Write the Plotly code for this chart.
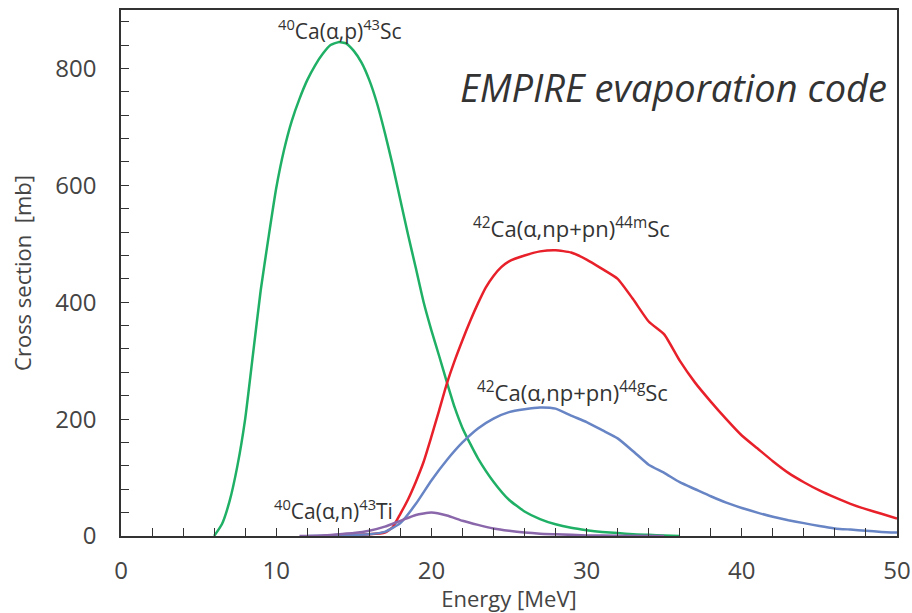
import plotly.graph_objects as go

# Energy grids (MeV) and cross sections (mb)
e_green = [6, 6.5, 7, 7.5, 8, 8.5, 9, 9.5, 10, 10.5, 11, 11.5, 12, 12.5, 13, 13.5, 14, 14.5,
           15, 15.5, 16, 16.5, 17, 17.5, 18, 18.5, 19, 19.5, 20, 20.5, 21, 21.5, 22, 22.5, 23, 24,
           25, 26, 27, 28, 29, 30, 31, 32, 33, 34, 35, 36]
s_green = [0, 20, 60, 120, 200, 310, 420, 510, 595, 660, 710, 748, 780, 805, 825, 840, 845, 843,
           830, 810, 780, 740, 690, 635, 575, 515, 458, 400, 352, 308, 263, 220, 185, 158, 133, 93,
           62, 42, 29, 20, 14, 10, 7, 5, 3, 2, 1, 0]

e_red = [13, 14, 15, 16, 17, 17.5, 18, 18.5, 19, 19.5, 20, 20.5, 21, 21.5, 22, 22.5, 23, 23.5, 24,
         24.5, 25, 26, 27, 28, 29, 30, 31, 32, 33, 34,
         35, 36, 37, 38, 39, 40, 41, 42, 43, 44, 45, 46, 47, 48, 49, 50]
s_red = [0, 1, 2, 3, 6, 15, 38, 63, 93, 127, 170, 215, 261, 300, 335, 368, 398, 425, 445,
         460, 470, 480, 487, 489, 485, 473, 457, 440, 405, 367, 345, 300, 262, 230, 200, 172,
         150, 128, 108, 92, 78, 66, 55, 46, 38, 30]

e_blue = [12, 14, 16, 17, 18, 19, 20, 21, 22, 23, 24, 25, 26, 27, 28, 29, 30, 31, 32, 33, 34, 35, 36,
          37, 38, 39, 40, 41, 42, 43, 44, 45, 46, 47, 48, 49, 50]
s_blue = [0, 1, 3, 7, 22, 55, 95, 130, 160, 184, 201, 212, 217, 220, 218, 206, 195, 181, 167, 145,
          122, 108, 92, 80, 68, 57, 48, 40, 33, 27, 22, 17, 13, 11, 9, 7, 6]

e_purple = [11.5, 13, 14, 15, 16, 17, 18, 19, 20, 21, 22, 23, 24, 25, 26, 27, 28, 30, 32, 35]
s_purple = [0, 1, 3, 5, 9, 16, 26, 36, 40, 35, 26, 19, 13, 9, 6, 4, 3, 1, 0.5, 0]

x_ticks = [0, 10, 20, 30, 40, 50]
y_ticks = [0, 200, 400, 600, 800]

fig = go.Figure()
series = [
    (e_green, s_green, '#1fb066'),
    (e_red, s_red, '#e8202a'),
    (e_blue, s_blue, '#6784c4'),
    (e_purple, s_purple, '#8a66aa'),
]
for xs, ys, c in series:
    fig.add_trace(go.Scatter(x=xs, y=ys, mode='lines', line=dict(color=c, width=2.5, shape='spline', smoothing=0.5),
                             showlegend=False, hoverinfo='skip', cliponaxis=False))

font = "Open Sans, Liberation Sans, sans-serif"
ann = [
    (14.1, 866, "<sup>40</sup>Ca(α,p)<sup>43</sup>Sc", 21),
    (29.0, 528, "<sup>42</sup>Ca(α,np+pn)<sup>44m</sup>Sc", 22),
    (29.1, 247, "<sup>42</sup>Ca(α,np+pn)<sup>44g</sup>Sc", 22),
    (13.7, 46, "<sup>40</sup>Ca(α,n)<sup>43</sup>Ti", 21),
]
for x, y, t, s in ann:
    fig.add_annotation(x=x, y=y, text=t, showarrow=False, font=dict(family=font, size=s, color='#333333'),
                       xref='x', yref='y')
fig.add_annotation(x=35.6, y=768, text="<i>EMPIRE evaporation code</i>", showarrow=False,
                   font=dict(family=font, size=38, color='#333333'), xref='x', yref='y')

axis_common = dict(showline=True, linecolor='#333333', linewidth=1.5, mirror=True, showgrid=False,
                   zeroline=False, ticks='inside', ticklen=8, tickcolor='#333333', automargin=False,
                   tickfont=dict(family=font, size=24, color='#444444'))
fig.update_xaxes(range=[0, 50], tickvals=x_ticks, ticktext=[str(v) for v in x_ticks],
                 minor=dict(dtick=2, ticks='inside', ticklen=8, tickcolor='#333333'),
                 ticklabelstandoff=12,
                 title=dict(text='Energy [MeV]', font=dict(family=font, size=22, color='#444444'), standoff=0),
                 **axis_common)
fig.update_yaxes(range=[0, 900], tickvals=y_ticks, ticktext=[str(v) for v in y_ticks],
                 minor=dict(dtick=40, ticks='inside', ticklen=8, tickcolor='#333333'),
                 ticklabelstandoff=18,
                 title=dict(text='Cross section&nbsp; [mb]', font=dict(family=font, size=22, color='#444444'), standoff=18),
                 **axis_common)
fig.update_layout(width=912, height=613, margin=dict(l=121, r=15, t=10, b=77),
                  plot_bgcolor='white', paper_bgcolor='white')
fig.write_html("out.html")
